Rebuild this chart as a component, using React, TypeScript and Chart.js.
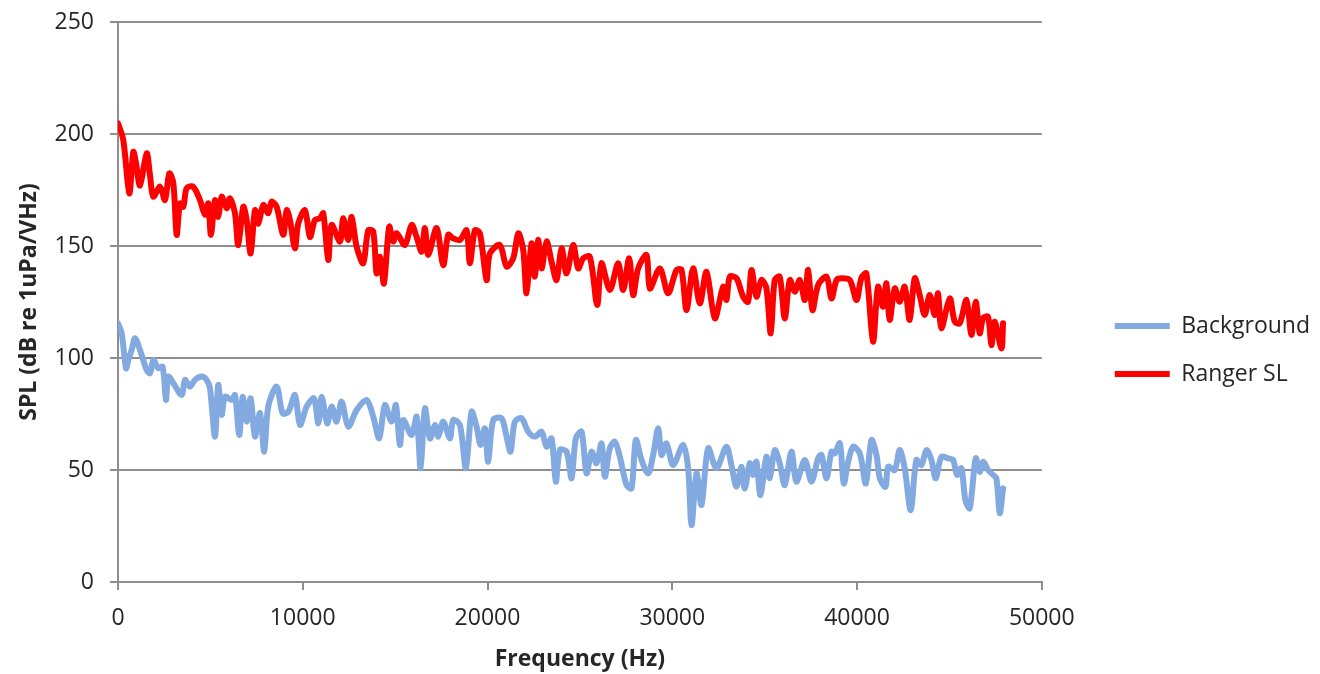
import React, { useEffect, useRef } from "react";
import { Chart, registerables } from "chart.js";

Chart.register(...registerables);

// Ranger SL (red) — frequency (Hz) and SPL values
const rangerFreq = [
  0, 287, 611, 828, 974, 1190, 1553, 1731, 1910, 2273, 2543, 2778, 2995, 3176, 3355, 3535, 3716, 4070, 4437, 4707,
  4886, 5030, 5249, 5427, 5611, 5882, 6060, 6331, 6509, 6780, 6964, 7180, 7413, 7591, 7862, 8132, 8317, 8587, 8944, 9129,
  9307, 9578, 9756, 10119, 10389, 10660, 10930, 11109, 11380, 11564, 12012, 12191, 12462, 12646, 12917, 13274, 13544, 13815, 13995, 14177,
  14393, 14680, 14897, 15080, 15530, 15892, 16163, 16433, 16612, 16790, 17245, 17604, 17874, 18145, 18506, 18867, 19047, 19318, 19588, 19950,
  20129, 20670, 21032, 21393, 21663, 21934, 22114, 22384, 22563, 22742, 22926, 23197, 23467, 23738, 24008, 24279, 24640, 24910, 25181, 25541,
  25937, 26168, 26622, 27073, 27344, 27668, 27885, 28155, 28610, 28787, 29328, 29777, 30231, 30502, 30773, 31130, 31492, 31855, 32304, 32753,
  32934, 33115, 33477, 33834, 34105, 34289, 34556, 34826, 35097, 35330, 35547, 35818, 36089, 36362, 36632, 36903, 37174, 37353, 37592, 37895,
  38350, 38620, 38891, 39161, 39612, 39975, 40234, 40505, 40866, 41136, 41407, 41590, 41770, 42041, 42311, 42582, 42852, 43123, 43394, 43664,
  43935, 44206, 44386, 44568, 45019, 45290, 45561, 45923, 46194, 46426, 46643, 46822, 47093, 47274, 47454, 47817, 47906,
];
const rangerSpl = [
  204.8, 197.3, 173.5, 192, 187, 177, 191.4, 181.7, 172, 176.5, 170.5, 182.4, 178, 155, 169, 167.5, 175.8, 176.5, 170.5, 164,
  169, 155, 170.5, 163, 172, 166.8, 171.3, 164.6, 150.4, 167.5, 161.6, 146.7, 166, 160, 168.3, 164.6, 169.8, 167.5, 155, 166,
  161.6, 149, 160, 166, 154, 161.6, 162.4, 164.6, 143.8, 159.4, 152, 162.4, 152.7, 163, 149.7, 142.3, 157, 156.4, 137.8, 145.2,
  133.3, 158.6, 152, 155.7, 150.4, 159.4, 154, 147.5, 158, 146, 158, 141.5, 155, 153.4, 152.7, 157, 142.3, 157, 155.7, 134.8,
  146.7, 150.4, 140.8, 144.5, 155.7, 148.2, 128.9, 151.2, 136.3, 152.7, 140, 152, 143, 134.8, 149, 137.8, 150.4, 140, 144.5, 145.2,
  123.7, 142.3, 130.4, 142.3, 130.4, 144.5, 128, 140, 146, 131, 140, 128.9, 139.3, 139.3, 121.4, 140, 124.4, 138.5, 117.7, 131.8,
  125.9, 136.3, 135.6, 127.4, 125.1, 139.3, 127.4, 134.8, 131.1, 111, 134.8, 136.3, 117.7, 134.8, 129.6, 134.8, 125.9, 139.3, 121.4, 132.6,
  136.3, 126.6, 134.8, 135.6, 134.8, 125.9, 135.6, 137.8, 107.3, 131.8, 122.9, 133.3, 117, 131.1, 125.1, 131.8, 117, 135.6, 128.1, 119.2,
  128.1, 119.2, 128.9, 113.3, 126.6, 116.2, 115.5, 125.9, 110.3, 125.1, 111, 117.7, 118.4, 105.8, 116.2, 104.3, 115.5,
];

// Background (blue)
const backgroundFreq = [
  0, 200, 433, 557, 741, 920, 1190, 1553, 1731, 1910, 2181, 2415, 2597, 2723, 2995, 3446, 3625, 3896, 4166, 4529,
  4800, 4978, 5249, 5427, 5611, 5790, 6152, 6331, 6563, 6747, 6964, 7180, 7413, 7684, 7917, 8132, 8587, 8911, 9218, 9578,
  9848, 10210, 10606, 10840, 11022, 11325, 11564, 11834, 12105, 12462, 12917, 13454, 13815, 14140, 14447, 14808, 15041, 15259, 15438, 15892,
  16163, 16379, 16612, 16883, 17153, 17333, 17604, 17965, 18145, 18506, 18831, 19138, 19408, 19625, 19858, 20038, 20309, 20760, 21032, 21248,
  21481, 21844, 22204, 22563, 22926, 23197, 23467, 23700, 23917, 24279, 24550, 24782, 25091, 25361, 25632, 25902, 26173, 26352, 26622, 26893,
  27163, 27526, 27796, 28029, 28338, 28696, 28966, 29237, 29421, 29687, 30048, 30589, 30859, 31043, 31313, 31584, 31942, 32393, 32934, 33206,
  33477, 33745, 33925, 34196, 34375, 34556, 34772, 35097, 35276, 35547, 35818, 36089, 36451, 36722, 37174, 37536, 37895, 38077, 38350, 38620,
  38799, 39070, 39283, 39522, 39792, 40154, 40477, 40784, 41055, 41235, 41541, 41686, 42041, 42311, 42582, 42907, 43214, 43485, 43755, 44026,
  44259, 44568, 44929, 45200, 45417, 45651, 45867, 46102, 46426, 46643, 46822, 47093, 47363, 47544, 47725, 47906,
];
const backgroundSpl = [
  115.5, 111, 95.4, 99.1, 103.6, 108.8, 103.6, 94.6, 93.2, 99.1, 95.4, 96.1, 81.3, 91.7, 88.7, 83.5, 90.2, 87.2, 90.2, 91.7,
  90.2, 86.5, 64.9, 88, 74.6, 82.7, 81.3, 83.5, 65.6, 82.7, 71.6, 82, 64.9, 75.4, 58.2, 78.3, 87.2, 75.3, 76, 83.5,
  70.1, 78.3, 82, 70.8, 82.7, 70.8, 78.3, 71.6, 80.5, 69.4, 76.8, 81.3, 73.8, 64.1, 79, 71.6, 79, 61.2, 72.3, 65.6,
  73.8, 50.8, 77.5, 64.1, 70.1, 64.9, 71.6, 64.1, 72.3, 70.1, 50.8, 76, 69.4, 61.2, 68.6, 53.7, 72.3, 73.1, 64.9, 58.2,
  71.6, 73.1, 67.1, 64.9, 67.1, 60.4, 64.1, 44.8, 58.9, 58.2, 46.3, 64.1, 67.1, 48.5, 58.2, 53, 61.9, 47, 59.7, 62.6,
  55.9, 43.3, 41.8, 63.4, 54.5, 48.5, 56.7, 68.6, 56.7, 61.9, 52.2, 61.2, 50.8, 25.4, 48.5, 34.4, 59.7, 50.8, 60.4, 52,
  42.5, 51.5, 41.8, 53, 47.8, 53.7, 38.8, 55.9, 46.3, 58.9, 53, 43.3, 58.2, 44.8, 54.5, 44.8, 55.2, 56.7, 46.3, 58.2,
  57.4, 61.9, 44, 53.7, 60.4, 57.4, 44, 63.4, 56.7, 46.3, 42.5, 51.5, 50, 58.9, 50.8, 32.1, 54.5, 52.2, 58.9, 54.5,
  46.3, 55.9, 55.2, 54.5, 47.8, 50.8, 36.6, 32.9, 55.2, 49.2, 53.7, 50, 47.8, 46.3, 30.7, 41.8,
];

const seriesNames = ["Background", "Ranger SL"];
const xTitle = "Frequency (Hz)";
const yTitle = "SPL (dB re 1uPa/VHz)";

const FONT = "'Open Sans', 'Liberation Sans', sans-serif";
const TEXT = "#262626";
const GRID = "#8e8e8e";

export default function App() {
  const ref = useRef<HTMLCanvasElement | null>(null);

  useEffect(() => {
    const canvas = ref.current;
    if (!canvas) return;
    const toXY = (xs: number[], ys: number[]) => xs.map((x, i) => ({ x, y: ys[i] }));
    const chart = new Chart(canvas, {
      type: "line",
      data: {
        datasets: [
          {
            label: seriesNames[0],
            data: toXY(backgroundFreq, backgroundSpl),
            borderColor: "#83AAE0",
            backgroundColor: "#83AAE0",
            borderWidth: 6,
            pointRadius: 0,
            tension: 0.3,
            borderJoinStyle: "round",
            borderCapStyle: "round",
          },
          {
            label: seriesNames[1],
            data: toXY(rangerFreq, rangerSpl),
            borderColor: "#FF0000",
            backgroundColor: "#FF0000",
            borderWidth: 6,
            pointRadius: 0,
            tension: 0.3,
            borderJoinStyle: "round",
            borderCapStyle: "round",
          },
        ],
      },
      options: {
        animation: false,
        responsive: false,
        devicePixelRatio: 1,
        layout: { padding: { top: 22, left: 0, right: 0, bottom: 0 } },
        plugins: {
          tooltip: { enabled: false },
          legend: {
            position: "right",
            align: "center",
            maxWidth: 300,
            title: { display: true, text: " ", font: { size: 1 }, padding: { top: 3, bottom: 0 } },
            labels: {
              usePointStyle: true,
              pointStyle: "line",
              pointStyleWidth: 55,
              padding: 25,
              color: TEXT,
              font: { family: FONT, size: 23 },
            },
          },
        },
        scales: {
          x: {
            type: "linear",
            min: 0,
            max: 50000,
            ticks: {
              stepSize: 10000,
              color: TEXT,
              font: { family: FONT, size: 23 },
              padding: 15,
              maxRotation: 0,
              callback: (v: any) => String(v),
            },
            grid: { drawOnChartArea: false, drawTicks: true, tickLength: 8, color: GRID, lineWidth: 2 },
            border: { display: true, color: GRID, width: 2 },
            title: { display: true, text: xTitle, color: TEXT, font: { family: FONT, size: 23, weight: "bold" }, padding: { top: 0, bottom: 1 } },
            afterFit: (s: any) => { s.height = 92; },
          },
          y: {
            min: 0,
            max: 250,
            ticks: { stepSize: 50, color: TEXT, font: { family: FONT, size: 23 }, padding: 16 },
            grid: { color: GRID, lineWidth: 2, tickLength: 8 },
            border: { display: true, color: GRID, width: 2 },
            title: { display: true, text: yTitle, color: TEXT, font: { family: FONT, size: 23, weight: "bold" }, padding: { top: 16, bottom: 0 } },
            afterFit: (s: any) => { s.width = 118; s.paddingTop = 0; s.paddingBottom = 0; },
          },
          y2: {
            type: "linear",
            position: "right",
            display: true,
            grid: { display: false },
            ticks: { display: false },
            border: { display: false },
            afterFit: (s: any) => { s.width = 48; },
          },
        },
      },
    });
    return () => chart.destroy();
  }, []);

  return (
    <div style={{ position: "absolute", left: 0, top: 0, width: 1320, height: 674, background: "#fff" }}>
      <canvas ref={ref} width={1320} height={674} />
    </div>
  );
}
